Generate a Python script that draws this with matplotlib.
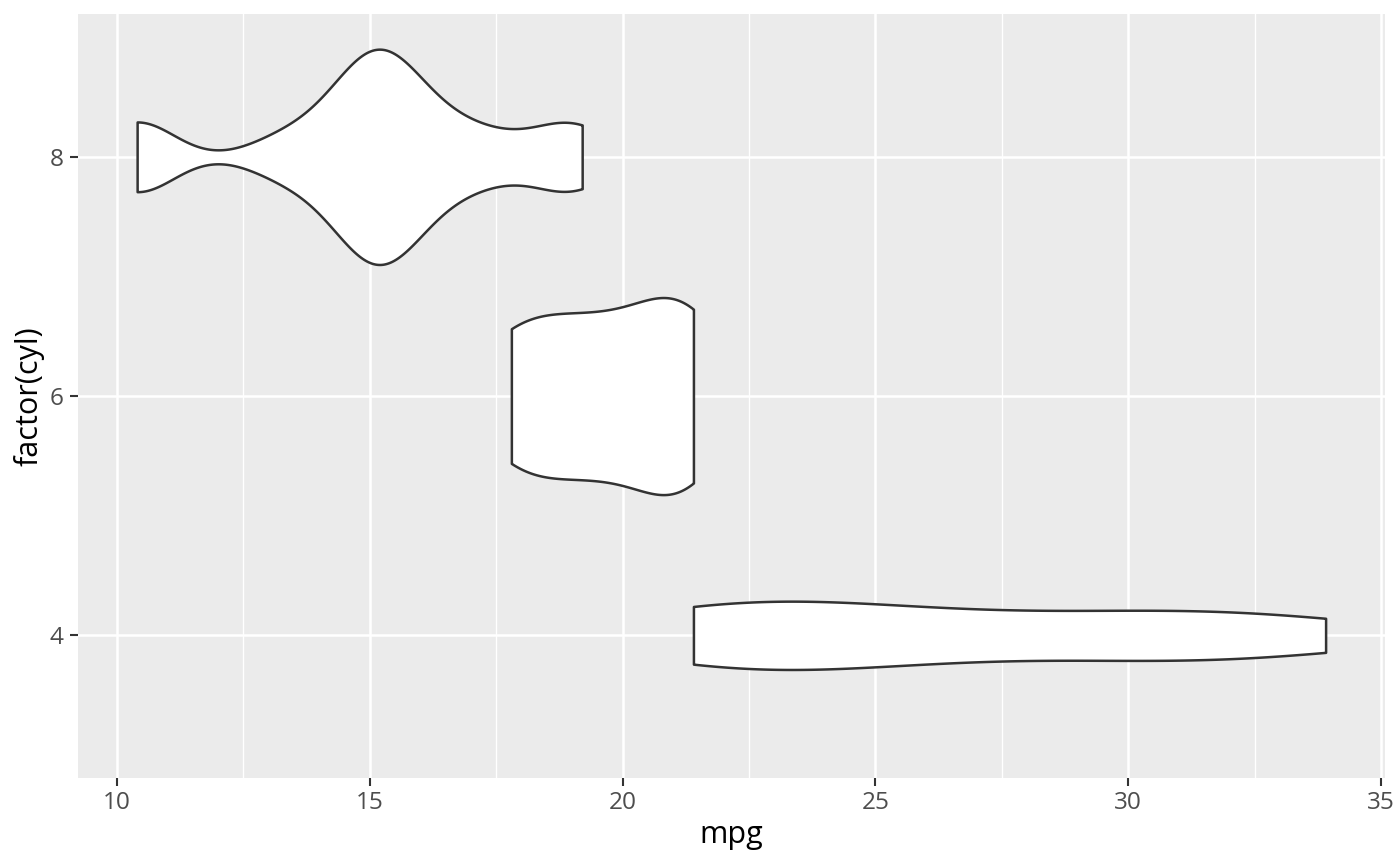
import numpy as np
import matplotlib
matplotlib.use("Agg")
import matplotlib.pyplot as plt
from matplotlib import cbook

# mtcars: mpg grouped by number of cylinders
cyl_levels = [4, 6, 8]
mpg_4 = [22.8, 24.4, 22.8, 32.4, 30.4, 33.9, 21.5, 27.3, 26.0, 30.4, 21.4]
mpg_6 = [21.0, 21.0, 21.4, 18.1, 19.2, 17.8, 19.7]
mpg_8 = [18.7, 14.3, 16.4, 17.3, 15.2, 10.4, 10.4, 14.7, 15.5, 15.2, 13.3,
         19.2, 15.8, 15.0]
groups = [mpg_4, mpg_6, mpg_8]

x_ticks = [10, 15, 20, 25, 30, 35]
x_minor = [12.5, 17.5, 22.5, 27.5, 32.5]
y_ticks = [4, 6, 8]

plt.rcParams["font.family"] = ["Open Sans", "DejaVu Sans"]


def bw_nrd0(x):
    x = np.asarray(x, float)
    sd = x.std(ddof=1)
    q75, q25 = np.percentile(x, [75, 25])
    lo = min(sd, (q75 - q25) / 1.34)
    return 0.9 * lo * len(x) ** -0.2


def gauss_kde(x, coords):
    x = np.asarray(x, float)
    bw = bw_nrd0(x)
    z = (coords[:, None] - x[None, :]) / bw
    return np.exp(-0.5 * z ** 2).sum(axis=1) / (len(x) * bw * np.sqrt(2 * np.pi))


stats = cbook.violin_stats(groups, gauss_kde, points=512)
# ggplot scale="area": widths relative to the largest density of all groups
full_width = 0.9 * 2
dmax = max(s["vals"].max() for s in stats)
widths = [full_width * s["vals"].max() / dmax for s in stats]

fig = plt.figure(figsize=(7, 4.33), dpi=200)
ax = fig.add_axes([0.0555, 0.102, 0.9338, 0.8813])
ax.set_facecolor("#EBEBEB")

parts = ax.violin(stats, positions=cyl_levels, widths=widths,
                  orientation="horizontal", showextrema=False)
for body in parts["bodies"]:
    body.set_facecolor("white")
    body.set_edgecolor("#333333")
    body.set_alpha(1)
    body.set_linewidth(0.9)
    body.set_zorder(3)

ax.set_xlim(9.225, 35.075)
ax.set_ylim(2.81, 9.19)
ax.set_xticks(x_ticks)
ax.set_xticks(x_minor, minor=True)
ax.set_yticks(y_ticks)
ax.set_xticklabels([str(t) for t in x_ticks])
ax.set_yticklabels([str(t) for t in y_ticks])

for v in x_ticks:
    ax.axvline(v, color="white", lw=0.9, zorder=1)
for v in x_minor:
    ax.axvline(v, color="white", lw=0.5, zorder=1)
for v in y_ticks:
    ax.axhline(v, color="white", lw=0.9, zorder=1)

for s in ax.spines.values():
    s.set_visible(False)
ax.tick_params(axis="both", which="major", length=2.75, width=0.75,
               color="#333333", labelcolor="#4D4D4D", labelsize=8.8, pad=2.2)
ax.tick_params(axis="x", which="minor", length=0)

ax.set_xlabel("mpg", fontsize=11, color="black", labelpad=1.8)
ax.set_ylabel("factor(cyl)", fontsize=11, color="black", labelpad=2)

fig.savefig("out.png", dpi=200)
